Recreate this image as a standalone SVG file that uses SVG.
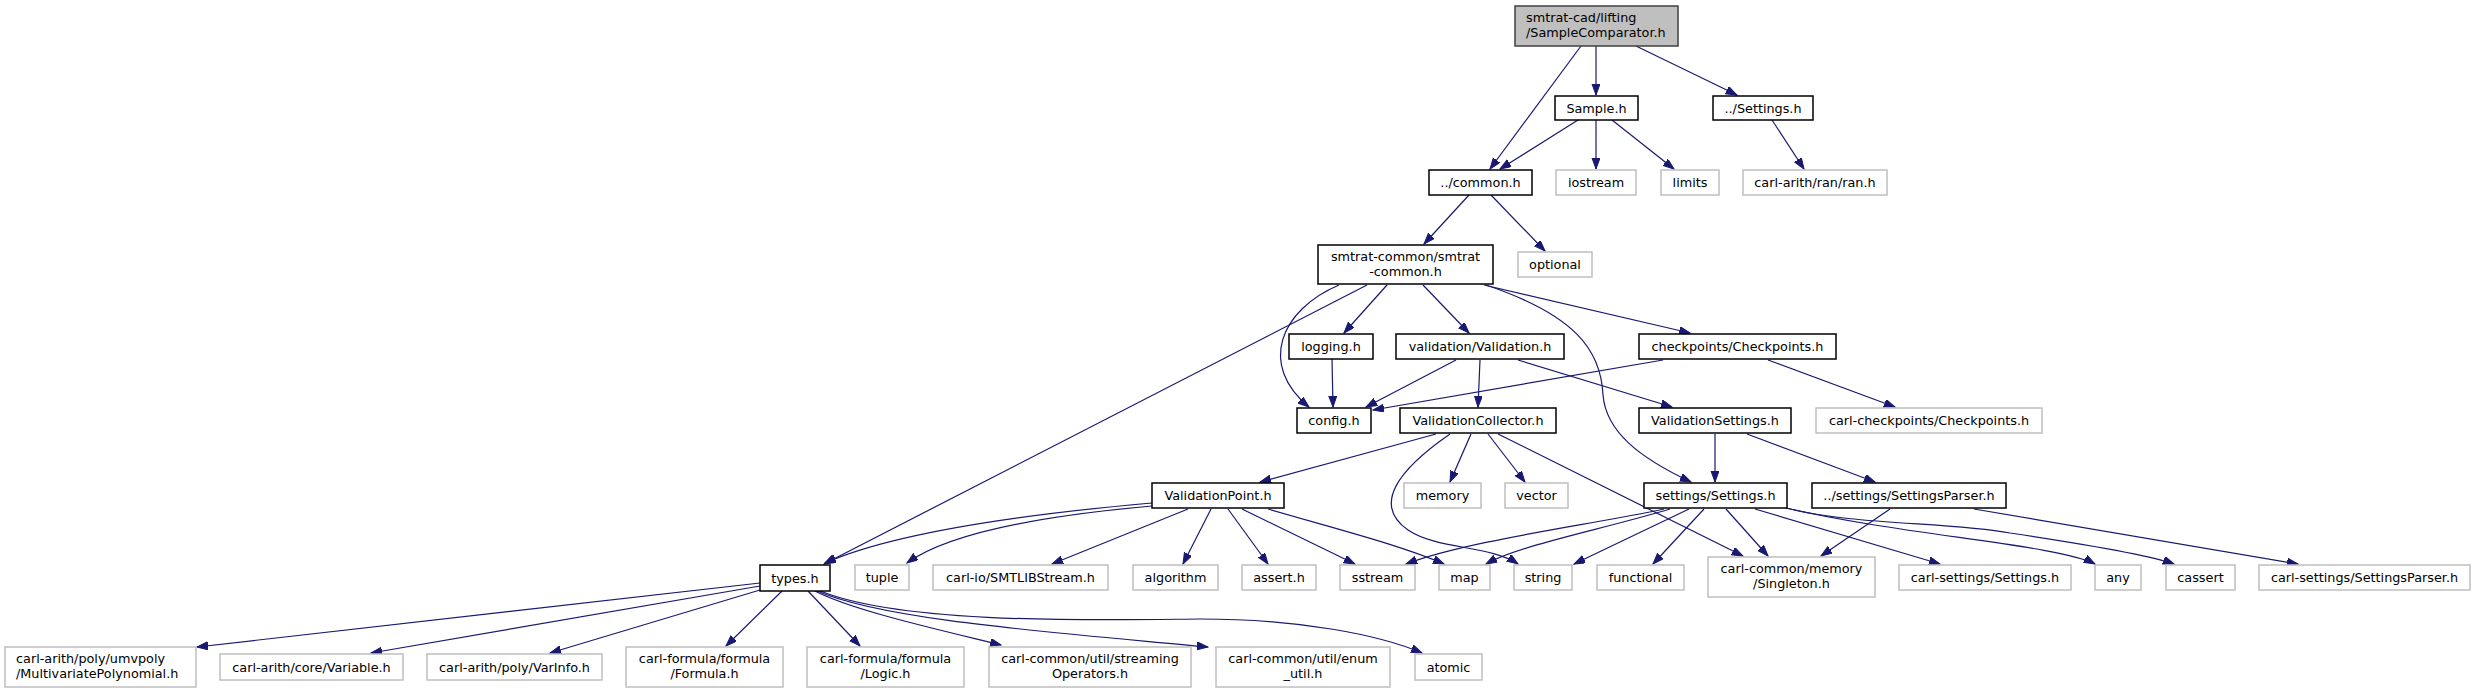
<svg xmlns="http://www.w3.org/2000/svg" width="2475" height="693" viewBox="0 0 2475 693">
<style>
text{font-family:"DejaVu Sans","Liberation Sans",sans-serif;font-size:12.8px;fill:#000;text-anchor:middle}
text.l{text-anchor:start}
.n rect{fill:#fff;stroke:#000;stroke-width:1.5}
.g rect{fill:#fff;stroke:#bfbfbf;stroke-width:1.5}
.r rect{fill:#bfbfbf;stroke:#404040;stroke-width:1.5}
#edges path{fill:none;stroke:#191970;stroke-width:1.2;marker-end:url(#a)}
</style>
<defs>
<marker id="a" markerWidth="12" markerHeight="9" refX="11" refY="4" orient="auto" markerUnits="userSpaceOnUse"><path d="M0,0 L11,4 L0,8 z" fill="#191970" stroke="#191970" stroke-width="1"/></marker>
</defs>
<rect width="2475" height="693" fill="#fff"/>
<g id="edges">
<path d="M1581,46 L1490,169"/>
<path d="M1596,46 L1596,95"/>
<path d="M1636,46 L1737,95"/>
<path d="M1578,120 L1500,169"/>
<path d="M1596,120 L1596,169"/>
<path d="M1612,120 L1674,169"/>
<path d="M1772,120 L1804,169"/>
<path d="M1469,195 L1424,244"/>
<path d="M1491,195 L1545,251"/>
<path d="M1387,285 L1344,333"/>
<path d="M1423,285 L1469,333"/>
<path d="M1484,285 L1690,333"/>
<path d="M1339,285 C1280,310 1258,365 1309,407"/>
<path d="M1367,285 L824,564"/>
<path d="M1486,285 C1575,315 1601,350 1603,395 C1606,432 1640,458 1691,482"/>
<path d="M1332,359 L1333,407"/>
<path d="M1456,360 L1366,407"/>
<path d="M1480,360 L1478,407"/>
<path d="M1518,360 L1672,407"/>
<path d="M1663,360 L1373,410"/>
<path d="M1768,360 L1895,407"/>
<path d="M1436,434 L1260,482"/>
<path d="M1471,434 L1450,482"/>
<path d="M1488,434 L1525,482"/>
<path d="M1450,434 C1398,470 1372,505 1408,530 C1438,550 1490,545 1518,564"/>
<path d="M1498,434 L1743,556"/>
<path d="M1715,434 L1715,482"/>
<path d="M1747,434 L1875,482"/>
<path d="M1211,509 L1183,564"/>
<path d="M1228,509 L1268,564"/>
<path d="M1242,509 L1355,564"/>
<path d="M1268,509 C1340,530 1400,545 1444,564"/>
<path d="M1188,509 L1052,564"/>
<path d="M1152,503 C1050,512 900,530 825,563"/>
<path d="M1152,506 C1050,515 950,532 907,563"/>
<path d="M1664,509 C1590,525 1470,540 1406,564"/>
<path d="M1670,509 C1600,530 1520,545 1486,564"/>
<path d="M1689,509 L1574,564"/>
<path d="M1704,509 L1653,564"/>
<path d="M1726,509 L1768,556"/>
<path d="M1755,509 L1940,564"/>
<path d="M1786,508 C1900,535 2060,545 2095,564"/>
<path d="M1786,508 C1850,525 1950,522 2010,533 C2090,545 2150,555 2174,564"/>
<path d="M1890,509 L1821,556"/>
<path d="M1974,509 L2298,564"/>
<path d="M760,583 L197,647"/>
<path d="M760,586 L371,653"/>
<path d="M760,590 L550,653"/>
<path d="M782,591 L726,646"/>
<path d="M808,591 L860,646"/>
<path d="M813,590 C850,610 940,630 1001,645"/>
<path d="M815,590 C880,620 1050,632 1208,647"/>
<path d="M818,590 C900,625 1100,620 1200,619 C1300,619 1380,635 1422,653"/>
</g>
<g id="n_root" class="r"><rect x="1515" y="6" width="163" height="40"/><text class="l" x="1526" y="22">smtrat-cad/lifting</text><text class="l" x="1526" y="37">/SampleComparator.h</text></g>
<g id="n_sample" class="n"><rect x="1555" y="96" width="83" height="24"/><text x="1596.5" y="112.6">Sample.h</text></g>
<g id="n_settingsTop" class="n"><rect x="1713" y="96" width="100" height="24"/><text x="1763" y="112.6">../Settings.h</text></g>
<g id="n_common" class="n"><rect x="1429" y="170" width="103" height="25"/><text x="1480.5" y="187.1">../common.h</text></g>
<g id="n_iostream" class="g"><rect x="1556" y="170" width="80" height="25"/><text x="1596" y="187.1">iostream</text></g>
<g id="n_limits" class="g"><rect x="1661" y="170" width="58" height="25"/><text x="1690" y="187.1">limits</text></g>
<g id="n_ran" class="g"><rect x="1743" y="170" width="144" height="25"/><text x="1815" y="187.1">carl-arith/ran/ran.h</text></g>
<g id="n_smtratcommon" class="n"><rect x="1318" y="245" width="175" height="39"/><text x="1405.5" y="261">smtrat-common/smtrat</text><text x="1405.5" y="276">-common.h</text></g>
<g id="n_optional" class="g"><rect x="1518" y="252" width="74" height="25"/><text x="1555" y="269.1">optional</text></g>
<g id="n_logging" class="n"><rect x="1289" y="334" width="84" height="25"/><text x="1331" y="351.1">logging.h</text></g>
<g id="n_validation" class="n"><rect x="1396" y="334" width="168" height="25"/><text x="1480" y="351.1">validation/Validation.h</text></g>
<g id="n_checkpoints" class="n"><rect x="1639" y="334" width="197" height="25"/><text x="1737.5" y="351.1">checkpoints/Checkpoints.h</text></g>
<g id="n_config" class="n"><rect x="1297" y="408" width="74" height="25"/><text x="1334" y="425.1">config.h</text></g>
<g id="n_vcollector" class="n"><rect x="1400" y="408" width="156" height="25"/><text x="1478" y="425.1">ValidationCollector.h</text></g>
<g id="n_vsettings" class="n"><rect x="1639" y="408" width="152" height="25"/><text x="1715" y="425.1">ValidationSettings.h</text></g>
<g id="n_carlcheckpoints" class="g"><rect x="1816" y="408" width="226" height="25"/><text x="1929" y="425.1">carl-checkpoints/Checkpoints.h</text></g>
<g id="n_vpoint" class="n"><rect x="1152" y="483" width="132" height="25"/><text x="1218" y="500.1">ValidationPoint.h</text></g>
<g id="n_memory" class="g"><rect x="1404" y="483" width="77" height="25"/><text x="1442.5" y="500.1">memory</text></g>
<g id="n_vector" class="g"><rect x="1505" y="483" width="63" height="25"/><text x="1536.5" y="500.1">vector</text></g>
<g id="n_settings" class="n"><rect x="1644" y="483" width="143" height="25"/><text x="1715.5" y="500.1">settings/Settings.h</text></g>
<g id="n_settingsparser" class="n"><rect x="1812" y="483" width="194" height="25"/><text x="1909" y="500.1">../settings/SettingsParser.h</text></g>
<g id="n_tuple" class="g"><rect x="855" y="565" width="54" height="25"/><text x="882" y="582.1">tuple</text></g>
<g id="n_smtlib" class="g"><rect x="933" y="565" width="175" height="25"/><text x="1020.5" y="582.1">carl-io/SMTLIBStream.h</text></g>
<g id="n_algorithm" class="g"><rect x="1133" y="565" width="85" height="25"/><text x="1175.5" y="582.1">algorithm</text></g>
<g id="n_assert" class="g"><rect x="1242" y="565" width="74" height="25"/><text x="1279" y="582.1">assert.h</text></g>
<g id="n_sstream" class="g"><rect x="1340" y="565" width="75" height="25"/><text x="1377.5" y="582.1">sstream</text></g>
<g id="n_map" class="g"><rect x="1439" y="565" width="51" height="25"/><text x="1464.5" y="582.1">map</text></g>
<g id="n_string" class="g"><rect x="1514" y="565" width="58" height="25"/><text x="1543" y="582.1">string</text></g>
<g id="n_functional" class="g"><rect x="1597" y="565" width="87" height="25"/><text x="1640.5" y="582.1">functional</text></g>
<g id="n_singleton" class="g"><rect x="1708" y="557" width="167" height="40"/><text x="1791.5" y="573">carl-common/memory</text><text x="1791.5" y="588">/Singleton.h</text></g>
<g id="n_carlsettings" class="g"><rect x="1899" y="565" width="172" height="25"/><text x="1985" y="582.1">carl-settings/Settings.h</text></g>
<g id="n_any" class="g"><rect x="2095" y="565" width="46" height="25"/><text x="2118" y="582.1">any</text></g>
<g id="n_cassert" class="g"><rect x="2166" y="565" width="69" height="25"/><text x="2200.5" y="582.1">cassert</text></g>
<g id="n_carlsettingsparser" class="g"><rect x="2259" y="565" width="211" height="25"/><text x="2364.5" y="582.1">carl-settings/SettingsParser.h</text></g>
<g id="n_types" class="n"><rect x="760" y="565" width="70" height="26"/><text x="795" y="582.6">types.h</text></g>
<g id="n_multivariate" class="g"><rect x="5" y="647" width="191" height="40"/><text class="l" x="16" y="663">carl-arith/poly/umvpoly</text><text class="l" x="16" y="678">/MultivariatePolynomial.h</text></g>
<g id="n_variable" class="g"><rect x="220" y="654" width="183" height="26"/><text x="311.5" y="671.6">carl-arith/core/Variable.h</text></g>
<g id="n_varinfo" class="g"><rect x="427" y="654" width="175" height="26"/><text x="514.5" y="671.6">carl-arith/poly/VarInfo.h</text></g>
<g id="n_formula" class="g"><rect x="626" y="647" width="157" height="40"/><text x="704.5" y="663">carl-formula/formula</text><text x="704.5" y="678">/Formula.h</text></g>
<g id="n_logic" class="g"><rect x="807" y="647" width="157" height="40"/><text x="885.5" y="663">carl-formula/formula</text><text x="885.5" y="678">/Logic.h</text></g>
<g id="n_streaming" class="g"><rect x="989" y="647" width="202" height="40"/><text x="1090" y="663">carl-common/util/streaming</text><text x="1090" y="678">Operators.h</text></g>
<g id="n_enum" class="g"><rect x="1216" y="647" width="174" height="40"/><text x="1303" y="663">carl-common/util/enum</text><text x="1303" y="678">_util.h</text></g>
<g id="n_atomic" class="g"><rect x="1415" y="654" width="67" height="26"/><text x="1448.5" y="671.6">atomic</text></g>
</svg>
